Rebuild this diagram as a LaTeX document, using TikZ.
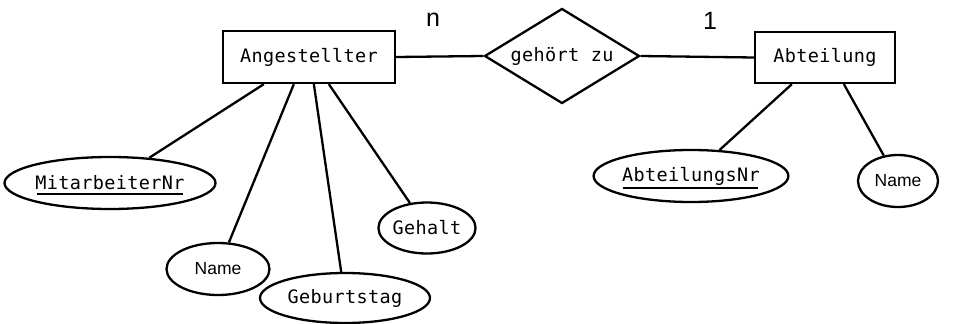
\documentclass[tikz,border=0pt]{standalone}
\usepackage{fontspec}
\setmainfont{Liberation Sans}
\newfontfamily\ermono[LetterSpace=2]{DejaVu Sans Mono}
\usetikzlibrary{shapes.geometric,calc}
\begin{document}
\begin{tikzpicture}[x=1pt,y=-1pt,
  monof/.style={font=\ermono\fontsize{18.5}{20}\selectfont},
  ent/.style={draw,line width=2.3pt,rectangle,inner sep=0pt,monof},
  rel/.style={draw,line width=2.3pt,diamond,inner sep=0pt,minimum width=155pt,minimum height=95pt},
  lbl/.style={inner sep=0pt,monof},
  attr/.style={draw,line width=2.3pt,ellipse,inner sep=0pt,monof},
  attrs/.style={draw,line width=2.3pt,ellipse,inner sep=0pt,font=\fontsize{17.5}{19}\selectfont},
  card/.style={font=\fontsize{25}{27}\selectfont,inner sep=0pt},
  conn/.style={line width=2.3pt},
  key/.style={line width=2.3pt}]
\useasboundingbox (0,0) rectangle (954,324);
\node[ent,minimum width=172pt,minimum height=52pt] (ang) at (309,57) {Angestellter};
\node[rel] (geh) at (562,56) {};
\node[lbl] (gehl) at (geh.center) {gehört zu};
\node[ent,minimum width=140pt,minimum height=51pt] (abt) at (825,57.5) {Abteilung};
\node[card] (n) at (433,20) {n};
\node[card] (one) at (710,21) {1};
\node[attr,minimum width=203pt,minimum height=52pt] (mnr) at (110,183) {MitarbeiterNr};
\node[attrs,minimum width=103pt,minimum height=52pt] (name1) at (218,269) {Name};
\node[attr,minimum width=170pt,minimum height=50pt] (geb) at (345,298) {Geburtstag};
\node[attr,minimum width=97pt,minimum height=51pt] (geha) at (427,228) {Gehalt};
\node[attr,minimum width=192pt,minimum height=52pt] (anr) at (691,176) {AbteilungsNr};
\node[attrs,minimum width=80pt,minimum height=52pt] (name2) at (898,181) {Name};
\draw[key] ($(mnr.center)+(-73,11)$) -- ($(mnr.center)+(73,11)$);
\draw[key] ($(anr.center)+(-68,12)$) -- ($(anr.center)+(67,12)$);
\draw[conn] (ang.east) -- (geh.west);
\draw[conn] (geh.east) -- (abt.west);
\draw[conn] ($(ang.south west)+(42,0)$) -- (mnr);
\draw[conn] ($(ang.south west)+(72,0)$) -- (name1);
\draw[conn] ($(ang.south west)+(92,0)$) -- (geb);
\draw[conn] ($(ang.south west)+(107,0)$) -- (geha);
\draw[conn] ($(abt.south west)+(38,0)$) -- (anr);
\draw[conn] ($(abt.south west)+(90,0)$) -- (name2);
\end{tikzpicture}
\end{document}
